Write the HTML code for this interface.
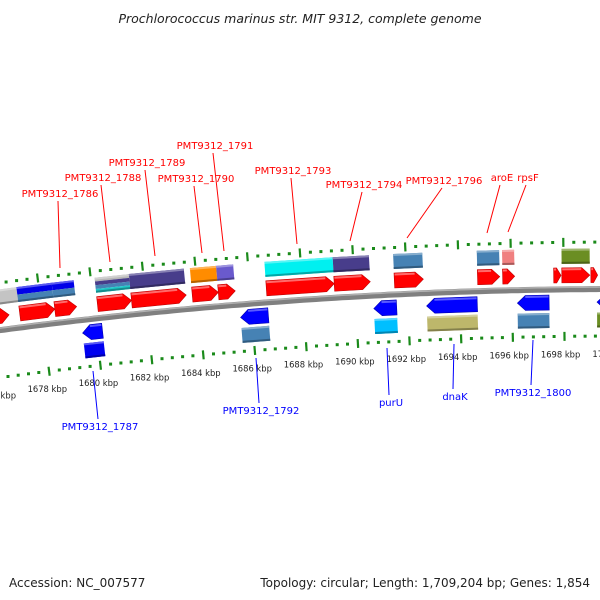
<!DOCTYPE html>
<html><head><meta charset="utf-8"><style>
html,body{margin:0;padding:0;background:#fff;}
svg{display:block;font-family:"DejaVu Sans","Liberation Sans",sans-serif;}
</style></head><body>
<svg id="map" width="600" height="600" viewBox="0 0 600 600">
<text x="300" y="23" text-anchor="middle" font-size="12.5" font-style="italic" fill="#222">Prochlorococcus marinus str. MIT 9312, complete genome</text>
<text x="9" y="587" font-size="12" fill="#222">Accession: NC_007577</text>
<text x="590" y="587" text-anchor="end" font-size="12" fill="#222">Topology: circular; Length: 1,709,204 bp; Genes: 1,854</text>
<g id="layer"></g>
</svg>
<script>
// ---- data (kbp) ----
const fwdStarts = [1676.2,1677.16,1678.51,1680.15,1681.46,1683.79,1684.79,1686.63,1689.23,1691.53,1694.71,1695.67,1697.62,1697.93,1699.04];
const fwdEnds   = [1676.75,1678.51,1679.35,1681.46,1683.56,1684.79,1685.44,1689.23,1690.61,1692.64,1695.56,1696.13,1697.9,1699.0,1699.3];
const fwdBoxStarts = [1676.2,1677.16,1678.51,1680.15,1681.46,1683.79,1684.79,1686.63,1689.23,1691.53,1694.71,1695.67,1697.93];
const fwdBoxEnds   = [1677.16,1678.51,1679.35,1681.46,1683.56,1684.79,1685.44,1689.23,1690.61,1692.64,1695.56,1696.13,1699.0];
const fwdBoxColors = [["#c4c4c4"],["#0000e8","#4682b4"],["#0000e8","#4682b4"],["#b8b8b8","#483d8b","#4682b4","#20c8c8"],["#483d8b"],["#ff8c00"],["#6a5acd"],["#00f0f0"],["#483d8b"],["#4682b4"],["#4682b4"],["#f08080"],["#6b8e23"]];
const revStarts = [1679.46,1685.56,1690.69,1692.72,1696.21,1699.27];
const revEnds   = [1680.23,1686.63,1691.57,1694.67,1697.43,1699.9];
const revBoxColors = ["#0000f0","#4682b4","#00bfff","#bdb76b","#4682b4","#6b8e23"];
const tickKbp = [1676,1678,1680,1682,1684,1686,1688,1690,1692,1694,1696,1698,1700];
const tickLabels = ["1676 kbp","1678 kbp","1680 kbp","1682 kbp","1684 kbp","1686 kbp","1688 kbp","1690 kbp","1692 kbp","1694 kbp","1696 kbp","1698 kbp","1700 kbp"];
const topLabels = ["PMT9312_1786","PMT9312_1788","PMT9312_1789","PMT9312_1790","PMT9312_1791","PMT9312_1793","PMT9312_1794","PMT9312_1796","aroE","rpsF"];
const topLabelX = [60,103,147,196,215,293,364,444,502,528];
const topLabelY = [197,181,166,182,149,174,188,184,181,181];
const topLineEnd = [[60,268],[110,262],[155,256],[202,253],[224,251],[297,244],[350,241],[407,238],[487,233],[508,232]];
const botLabels = ["PMT9312_1787","PMT9312_1792","purU","dnaK","PMT9312_1800"];
const botLabelX = [100,261,391,455,533];
const botLabelY = [430,414,406,400,396];
const botLineStart = [[93,371],[256,358],[387,348],[454,344],[533,340]];

// ---- geometry ----
const NS="http://www.w3.org/2000/svg";
const R=4735, CX=623, CY=289+4735, PX=26.1;
function xl(k){return 94+(k-1680)*PX;}
function phi(k){return (xl(k)-CX)/R;}
function pt(k,off){const p=phi(k),r=R+off;return [CX+r*Math.sin(p),CY-r*Math.cos(p)];}
const layer=document.getElementById('layer');
function mk(tag,attrs,parent){const e=document.createElementNS(NS,tag);for(const a in attrs)e.setAttribute(a,attrs[a]);(parent||layer).appendChild(e);return e;}
function shade(c,f){const n=parseInt(c.slice(1),16);let r=(n>>16)&255,g=(n>>8)&255,b=n&255;
 r=Math.round(f>1?r+(255-r)*(f-1):r*f);g=Math.round(f>1?g+(255-g)*(f-1):g*f);b=Math.round(f>1?b+(255-b)*(f-1):b*f);return `rgb(${r},${g},${b})`;}
function grp(k1,k2,off){const km=(k1+k2)/2;const [x,y]=pt(km,off);const L=(k2-k1)*PX*(R+off)/R;
 const g=mk('g',{transform:`translate(${x.toFixed(2)},${y.toFixed(2)}) rotate(${(phi(km)*180/Math.PI).toFixed(3)})`});return [g,L];}

// backbone
let d1="";for(let k=1675;k<=1701;k+=0.25){const [x,y]=pt(k,0);d1+=(d1?"L":"M")+x.toFixed(1)+","+y.toFixed(1);}
const bb=mk('path',{d:d1,stroke:"#808080","stroke-width":6,fill:"none"});


const bb2=mk('path',{d:d1,stroke:"#b0b0b0","stroke-width":1.5,fill:"none",transform:"translate(0,-2)"});

// rings
[[47,'outer'],[-47,'inner']].forEach(([off,nm])=>{
 for(let i=0;i<=62;i++){const k=1676+i*0.4;if(Math.abs((k-1676)/2-Math.round((k-1676)/2))<0.01)continue;
  const [x,y]=pt(k,off);const r=mk('rect',{x:(x-1.5).toFixed(1),y:(y-1.5).toFixed(1),width:3,height:3,fill:"#1a8a1a"});
  
  }
 tickKbp.forEach((k,i)=>{const [g]=grp(k,k,off);const t=mk('rect',{x:-1,y:-4.5,width:2.2,height:9,fill:"#1a8a1a"},g);
  
  });
});
tickKbp.forEach((k,i)=>{const [x,y]=pt(k,-66);const t=mk('text',{x:(x-4).toFixed(1),y:(y+2).toFixed(1),"text-anchor":"middle","font-size":8.4,fill:"#222"});t.textContent=tickLabels[i];
 
 });

// forward arrows
fwdStarts.forEach((s,i)=>{const [g,L]=grp(s,fwdEnds[i],14);const h=Math.min(8,L*0.6),a=-L/2,b=L/2;
 mk('polygon',{points:`${a},-7.5 ${b-h},-7.5 ${b},0 ${b-h},7.5 ${a},7.5`,fill:"#ff0000",stroke:"#c00000","stroke-width":0.6},g);
 mk('rect',{x:a+0.5,y:-7,width:Math.max(0,L-h-1),height:2,fill:"#ff6a6a"},g);
 
 });
// forward boxes
fwdBoxStarts.forEach((s,i)=>{const [g,L]=grp(s,fwdBoxEnds[i],33);const cs=fwdBoxColors[i],H=15,hh=H/cs.length;
 cs.forEach((c,j)=>{mk('rect',{x:-L/2,y:-H/2+j*hh,width:L,height:hh,fill:c},g);});
 mk('rect',{x:-L/2,y:-H/2,width:L,height:2,fill:shade(cs[0],1.35)},g);
 mk('rect',{x:-L/2,y:H/2-2,width:L,height:2,fill:shade(cs[cs.length-1],0.7)},g);
 
 });
// reverse arrows
revStarts.forEach((s,i)=>{const [g,L]=grp(s,revEnds[i],-13);const h=Math.min(8,L*0.6),a=-L/2,b=L/2;
 mk('polygon',{points:`${b},-7.5 ${a+h},-7.5 ${a},0 ${a+h},7.5 ${b},7.5`,fill:"#0000ff",stroke:"#0000b0","stroke-width":0.6},g);
 mk('rect',{x:a+h,y:-7,width:Math.max(0,L-h-0.5),height:2,fill:"#5a5aff"},g);
 
 });
revStarts.forEach((s,i)=>{const [g,L]=grp(s,revEnds[i],-31);const c=revBoxColors[i];
 mk('rect',{x:-L/2,y:-7.5,width:L,height:15,fill:c},g);
 mk('rect',{x:-L/2,y:-7.5,width:L,height:2,fill:shade(c,1.35)},g);
 mk('rect',{x:-L/2,y:5.5,width:L,height:2,fill:shade(c,0.7)},g);
 
 });

// labels
topLabels.forEach((t,i)=>{const l=mk('line',{x1:topLabelX[i]-2,y1:topLabelY[i]+4,x2:topLineEnd[i][0],y2:topLineEnd[i][1],stroke:"#ff0000","stroke-width":1});
 
 
 const e=mk('text',{x:topLabelX[i],y:topLabelY[i],"text-anchor":"middle","font-size":10,fill:"#ff0000"});e.textContent=t;
 
 });
botLabels.forEach((t,i)=>{const l=mk('line',{x1:botLineStart[i][0],y1:botLineStart[i][1],x2:botLabelX[i]-2,y2:botLabelY[i]-11,stroke:"#0000ff","stroke-width":1});
 
 
 const e=mk('text',{x:botLabelX[i],y:botLabelY[i],"text-anchor":"middle","font-size":10,fill:"#0000ff"});e.textContent=t;
 
 });
</script>
</body></html>
